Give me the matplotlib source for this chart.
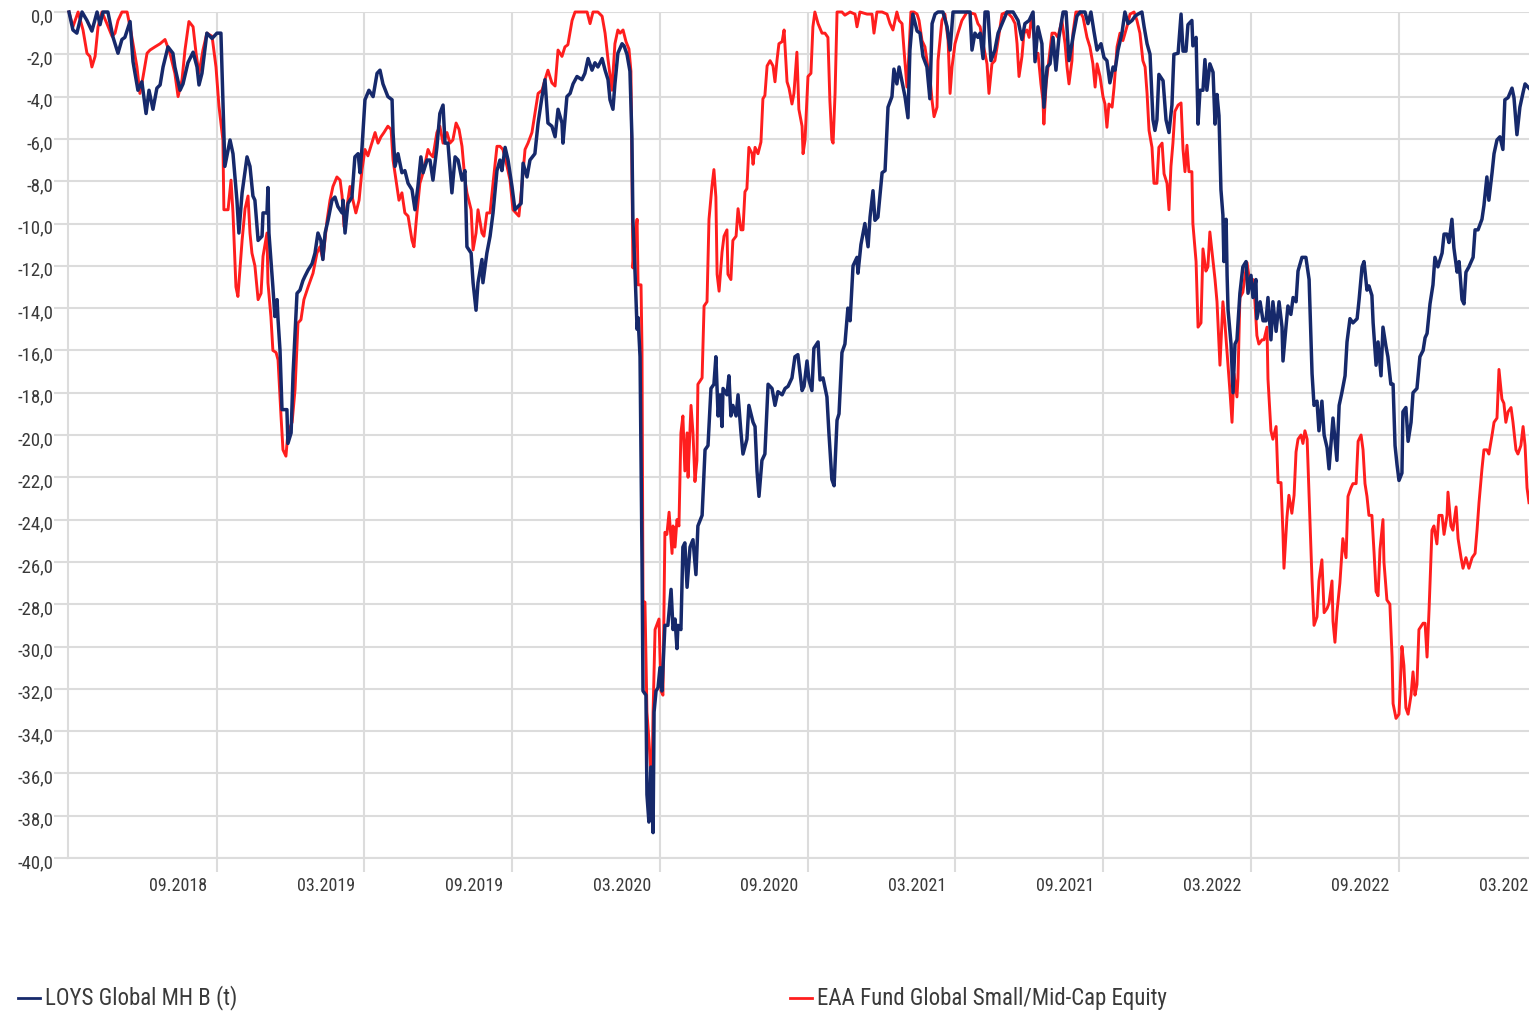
import matplotlib
matplotlib.use('Agg')
import matplotlib.pyplot as plt
from matplotlib import font_manager
from matplotlib.lines import Line2D
import numpy as np

# Drawdown (%). x = months since the start of the window (03.2018)
loys = [
    (0.00, 0.0), (0.16, -0.85), (0.32, -1.0), (0.53, 0.0), (0.73, -0.4), (0.93, -0.9), (1.14, 0.0),
    (1.26, -0.6), (1.38, 0.0), (1.58, 0.0), (1.79, -1.2), (1.99, -1.95), (2.15, -1.3), (2.27, -1.2),
    (2.48, -0.45), (2.60, -2.35), (2.80, -3.7), (2.96, -3.3), (3.13, -4.8), (3.25, -3.7), (3.41, -4.6),
    (3.57, -3.6), (3.70, -3.45), (3.82, -2.6), (4.02, -1.65), (4.22, -1.95), (4.30, -2.6), (4.51, -3.7),
    (4.63, -3.4), (4.83, -2.4), (5.04, -1.9), (5.20, -2.6), (5.28, -3.45), (5.40, -2.9), (5.60, -1.0),
    (5.81, -1.25), (6.01, -1.0), (6.17, -1.0), (6.25, -4.15), (6.33, -7.3), (6.54, -6.05), (6.66, -6.7),
    (6.82, -8.9), (6.90, -10.45), (7.03, -8.55), (7.23, -6.85), (7.35, -7.3), (7.47, -8.7), (7.55, -8.9),
    (7.68, -10.8), (7.84, -10.6), (7.88, -9.5), (8.04, -9.5), (8.08, -8.3), (8.12, -10.45), (8.24, -12.35),
    (8.28, -13.0), (8.36, -14.4), (8.45, -13.6), (8.49, -14.55), (8.57, -16.0), (8.65, -18.8), (8.85, -18.8),
    (8.89, -20.4), (9.02, -19.9), (9.10, -17.1), (9.26, -13.3), (9.38, -13.15), (9.50, -12.7), (9.58, -12.5),
    (9.71, -12.2), (9.87, -11.9), (9.99, -11.4), (10.11, -10.45), (10.23, -10.8), (10.31, -11.7),
    (10.40, -10.45), (10.52, -9.85), (10.68, -8.9), (10.80, -8.75), (10.92, -9.2), (11.09, -9.5),
    (11.13, -8.9), (11.21, -10.45), (11.33, -9.05), (11.49, -8.75), (11.61, -6.85), (11.74, -6.7),
    (11.82, -7.6), (11.90, -6.4), (12.02, -4.15), (12.18, -3.7), (12.35, -4.0), (12.51, -2.9), (12.63, -2.75),
    (12.75, -3.4), (12.95, -4.0), (13.12, -4.15), (13.16, -5.7), (13.24, -7.3), (13.36, -6.7), (13.52, -7.6),
    (13.64, -7.5), (13.77, -8.1), (13.93, -8.4), (14.05, -9.35), (14.17, -8.25), (14.29, -6.85), (14.38, -7.6),
    (14.54, -7.0), (14.66, -7.0), (14.78, -7.95), (14.94, -6.4), (15.06, -4.8), (15.19, -4.4), (15.27, -6.2),
    (15.39, -6.2), (15.55, -8.55), (15.68, -6.85), (15.80, -7.0), (15.96, -7.95), (16.08, -7.5), (16.16, -11.1),
    (16.33, -11.4), (16.41, -12.8), (16.53, -14.1), (16.61, -12.8), (16.77, -11.7), (16.81, -12.8),
    (16.97, -11.4), (17.10, -10.6), (17.22, -9.5), (17.38, -7.5), (17.50, -7.0), (17.58, -7.5), (17.71, -6.4),
    (17.83, -7.0), (17.99, -8.25), (18.11, -9.35), (18.23, -9.2), (18.36, -9.05), (18.44, -7.15), (18.60, -7.8),
    (18.72, -7.0), (18.92, -6.7), (19.05, -5.25), (19.21, -4.0), (19.33, -3.2), (19.45, -5.25), (19.61, -5.4),
    (19.74, -5.9), (19.86, -4.6), (20.02, -5.25), (20.06, -6.2), (20.22, -4.0), (20.35, -3.85), (20.47, -3.4),
    (20.63, -3.05), (20.83, -3.2), (20.95, -2.9), (21.08, -2.2), (21.24, -2.75), (21.36, -2.4), (21.48, -2.6),
    (21.65, -2.2), (21.77, -2.75), (21.89, -3.2), (21.97, -4.15), (22.09, -4.6), (22.17, -3.4), (22.29, -1.95),
    (22.46, -1.5), (22.54, -1.6), (22.66, -2.0), (22.78, -2.8), (22.86, -5.9), (22.90, -9.8), (22.99, -12.4),
    (23.07, -15.0), (23.11, -14.45), (23.19, -16.3), (23.27, -25.85), (23.31, -32.1), (23.43, -32.3),
    (23.47, -37.0), (23.55, -38.3), (23.63, -35.7), (23.72, -38.8), (23.76, -33.1), (23.84, -32.1),
    (23.92, -31.95), (24.00, -31.0), (24.08, -32.1), (24.20, -29.0), (24.32, -29.0), (24.45, -27.3),
    (24.53, -29.2), (24.61, -28.7), (24.69, -30.1), (24.73, -29.0), (24.85, -29.2), (24.93, -25.3),
    (25.01, -25.1), (25.10, -27.2), (25.22, -25.3), (25.34, -24.95), (25.46, -26.6), (25.54, -24.3),
    (25.71, -23.8), (25.83, -20.7), (25.95, -20.5), (26.07, -17.8), (26.19, -17.6), (26.27, -16.3),
    (26.36, -19.1), (26.44, -18.1), (26.52, -19.6), (26.56, -17.8), (26.72, -18.1), (26.80, -17.2),
    (26.88, -19.1), (26.96, -18.6), (27.09, -19.1), (27.17, -18.1), (27.29, -19.9), (27.37, -20.9),
    (27.53, -20.2), (27.61, -18.6), (27.78, -19.4), (27.86, -19.6), (27.94, -21.7), (28.02, -22.9),
    (28.14, -21.2), (28.26, -20.9), (28.39, -17.6), (28.55, -17.8), (28.67, -18.6), (28.79, -17.95),
    (28.96, -18.1), (29.08, -17.8), (29.20, -17.7), (29.36, -17.3), (29.48, -16.3), (29.60, -16.2),
    (29.77, -17.9), (29.85, -17.7), (29.97, -16.5), (30.05, -17.4), (30.17, -17.9), (30.25, -15.9),
    (30.42, -15.6), (30.50, -17.4), (30.62, -17.3), (30.78, -18.2), (30.86, -19.9), (30.98, -22.1),
    (31.07, -22.4), (31.19, -19.3), (31.27, -19.0), (31.39, -16.1), (31.51, -15.7), (31.63, -14.0),
    (31.72, -14.6), (31.84, -12.0), (32.00, -11.6), (32.04, -12.35), (32.16, -11.0), (32.32, -10.0),
    (32.45, -11.1), (32.53, -9.7), (32.65, -8.45), (32.73, -9.85), (32.85, -9.7), (33.02, -7.6), (33.14, -7.5),
    (33.26, -4.5), (33.42, -4.0), (33.50, -2.7), (33.62, -3.4), (33.71, -2.6), (33.83, -3.3), (33.95, -4.0),
    (34.07, -5.0), (34.15, -1.8), (34.27, -0.1), (34.44, -0.9), (34.56, -1.0), (34.68, -2.1), (34.84, -2.6),
    (34.96, -4.1), (35.05, -0.55), (35.17, -0.1), (35.29, 0.0), (35.49, 0.0), (35.66, -0.7), (35.78, -1.8),
    (35.90, 0.0), (36.10, 0.0), (36.39, 0.0), (36.59, 0.0), (36.67, -1.8), (36.79, -1.0), (36.91, -1.2),
    (37.00, -1.0), (37.12, -2.2), (37.20, 0.0), (37.32, 0.0), (37.44, -2.3), (37.60, -1.8), (37.73, -1.0),
    (37.89, -0.55), (38.09, 0.0), (38.34, 0.0), (38.54, -0.4), (38.70, -1.3), (38.82, -0.55), (38.99, -0.4),
    (39.15, 0.0), (39.23, -2.35), (39.35, -0.7), (39.51, -1.5), (39.59, -4.5), (39.72, -2.6), (39.84, -2.45),
    (39.96, -1.2), (40.08, -2.75), (40.20, -1.2), (40.37, 0.0), (40.49, 0.0), (40.61, -2.3), (40.77, -1.2),
    (40.93, -0.2), (41.06, 0.0), (41.26, 0.0), (41.38, -0.55), (41.50, 0.0), (41.62, -0.9), (41.75, -1.8),
    (41.91, -1.5), (42.03, -2.15), (42.15, -2.3), (42.27, -3.35), (42.40, -2.6), (42.48, -2.75), (42.60, -1.8),
    (42.76, -1.0), (42.88, 0.0), (43.01, -0.55), (43.17, -0.4), (43.29, -0.2), (43.41, -0.1), (43.57, 0.0),
    (43.66, -0.7), (43.78, -1.5), (43.90, -2.0), (44.02, -5.1), (44.10, -5.6), (44.18, -5.1), (44.26, -2.95),
    (44.43, -3.25), (44.55, -5.1), (44.67, -5.7), (44.79, -4.4), (44.87, -2.0), (45.04, -1.95), (45.16, -0.1),
    (45.24, -1.85), (45.36, -1.85), (45.44, -0.6), (45.60, -0.4), (45.64, -1.6), (45.77, -1.2), (45.85, -5.3),
    (45.93, -3.7), (46.05, -3.7), (46.13, -2.25), (46.21, -3.7), (46.33, -2.45), (46.46, -2.85), (46.54, -5.3),
    (46.62, -3.9), (46.70, -4.9), (46.78, -8.4), (46.86, -9.6), (46.90, -11.8), (46.99, -9.8), (47.03, -12.45),
    (47.07, -14.1), (47.19, -15.7), (47.27, -18.0), (47.35, -15.7), (47.43, -15.5), (47.55, -13.3),
    (47.67, -12.05), (47.80, -11.8), (47.88, -13.3), (48.00, -12.45), (48.08, -13.5), (48.20, -12.65),
    (48.24, -14.5), (48.37, -13.7), (48.49, -14.6), (48.61, -14.6), (48.69, -13.5), (48.81, -15.5),
    (48.89, -13.7), (49.02, -15.1), (49.14, -13.7), (49.26, -14.9), (49.30, -16.5), (49.42, -14.9),
    (49.50, -13.9), (49.62, -14.3), (49.71, -13.5), (49.83, -13.7), (49.91, -12.25), (50.07, -11.6),
    (50.23, -11.6), (50.36, -12.65), (50.48, -17.1), (50.56, -18.6), (50.68, -18.4), (50.76, -19.8),
    (50.88, -18.4), (50.97, -20.0), (51.09, -20.6), (51.17, -21.6), (51.29, -19.8), (51.33, -19.2),
    (51.49, -21.2), (51.58, -18.6), (51.69, -18.0), (51.82, -17.2), (51.90, -15.6), (52.02, -14.5),
    (52.14, -14.7), (52.31, -14.5), (52.39, -13.6), (52.51, -12.05), (52.59, -11.8), (52.71, -13.15),
    (52.79, -12.95), (52.91, -13.4), (52.96, -14.7), (53.08, -16.7), (53.16, -15.6), (53.28, -17.2),
    (53.36, -14.9), (53.48, -15.8), (53.56, -16.3), (53.68, -17.6), (53.77, -17.6), (53.85, -20.5),
    (53.93, -21.4), (54.01, -22.15), (54.13, -21.8), (54.17, -18.9), (54.29, -18.7), (54.38, -20.3),
    (54.50, -19.4), (54.58, -18.0), (54.74, -17.8), (54.86, -16.3), (54.99, -16.0), (55.07, -15.4),
    (55.15, -15.2), (55.27, -13.8), (55.39, -12.9), (55.47, -11.6), (55.59, -12.05), (55.76, -11.4),
    (55.84, -10.5), (55.96, -10.5), (56.04, -10.9), (56.16, -9.8), (56.24, -11.15), (56.37, -12.3),
    (56.45, -11.8), (56.57, -13.6), (56.65, -13.8), (56.73, -12.3), (56.85, -12.05), (57.02, -11.6),
    (57.10, -10.3), (57.22, -10.3), (57.38, -9.8), (57.46, -9.15), (57.58, -7.8), (57.66, -8.9), (57.79, -7.6),
    (57.87, -6.7), (57.99, -6.05), (58.11, -5.9), (58.23, -6.5), (58.31, -4.15), (58.44, -4.05), (58.60, -3.6),
    (58.68, -4.05), (58.80, -5.8), (58.92, -4.5), (59.05, -3.8), (59.13, -3.4), (59.29, -3.6),
]

eaa = [
    (0.00, 0.0), (0.16, -0.7), (0.37, 0.0), (0.57, -0.85), (0.73, -1.95), (0.85, -2.1), (0.93, -2.6),
    (1.06, -2.1), (1.18, -0.7), (1.34, 0.0), (1.54, -0.55), (1.75, -1.15), (1.87, -1.0), (1.99, -0.4),
    (2.15, 0.0), (2.36, 0.0), (2.48, -0.7), (2.60, -1.5), (2.76, -2.6), (2.88, -3.85), (3.01, -3.05),
    (3.17, -1.95), (3.29, -1.8), (3.49, -1.65), (3.70, -1.5), (3.90, -1.3), (4.10, -1.95), (4.30, -2.9),
    (4.43, -4.0), (4.59, -3.2), (4.71, -1.8), (4.87, -0.45), (5.04, -0.7), (5.16, -1.95), (5.28, -2.9),
    (5.44, -1.8), (5.60, -1.0), (5.81, -1.15), (5.97, -2.6), (6.09, -4.45), (6.25, -6.05), (6.29, -9.35),
    (6.46, -9.35), (6.58, -7.95), (6.66, -9.5), (6.78, -13.0), (6.86, -13.45), (7.03, -10.8), (7.15, -9.3),
    (7.27, -8.7), (7.35, -10.45), (7.43, -11.4), (7.55, -12.0), (7.68, -13.6), (7.80, -13.3), (7.88, -11.55),
    (8.04, -10.45), (8.08, -12.8), (8.20, -14.4), (8.28, -16.0), (8.41, -16.1), (8.49, -16.45), (8.61, -19.1),
    (8.69, -20.7), (8.81, -21.0), (8.89, -19.9), (9.06, -19.4), (9.18, -17.85), (9.30, -14.7), (9.42, -14.55),
    (9.54, -13.6), (9.71, -13.0), (9.91, -12.35), (10.07, -11.4), (10.19, -11.1), (10.31, -11.7),
    (10.48, -9.85), (10.60, -8.9), (10.72, -8.25), (10.88, -7.8), (11.01, -7.95), (11.09, -8.7),
    (11.17, -10.15), (11.29, -9.2), (11.41, -8.25), (11.53, -8.9), (11.65, -9.5), (11.78, -8.9),
    (11.90, -7.45), (12.02, -6.5), (12.14, -6.8), (12.30, -6.2), (12.43, -5.7), (12.55, -6.2), (12.67, -5.9),
    (12.79, -5.7), (12.95, -5.4), (13.08, -5.55), (13.16, -7.0), (13.32, -8.25), (13.40, -8.9), (13.52, -8.55),
    (13.64, -9.5), (13.77, -9.65), (13.93, -10.8), (14.01, -11.1), (14.13, -9.5), (14.25, -8.1), (14.38, -7.6),
    (14.58, -6.5), (14.66, -6.7), (14.78, -6.85), (14.94, -5.7), (15.06, -5.4), (15.19, -6.2), (15.35, -5.7),
    (15.47, -6.2), (15.59, -6.05), (15.72, -5.25), (15.84, -5.55), (15.96, -6.35), (16.08, -7.95),
    (16.16, -8.55), (16.33, -9.35), (16.41, -11.25), (16.53, -10.45), (16.61, -9.35), (16.77, -10.45),
    (16.85, -10.6), (16.97, -9.5), (17.10, -9.5), (17.22, -8.1), (17.38, -6.35), (17.50, -6.35), (17.62, -6.5),
    (17.79, -7.3), (17.91, -7.95), (18.03, -9.35), (18.15, -9.5), (18.27, -9.65), (18.40, -8.1), (18.52, -6.5),
    (18.64, -6.2), (18.80, -5.7), (18.92, -4.8), (19.05, -3.85), (19.21, -3.7), (19.33, -3.2), (19.45, -2.75),
    (19.61, -3.35), (19.74, -3.5), (19.86, -1.8), (20.02, -2.1), (20.14, -1.65), (20.26, -1.55), (20.43, -0.4),
    (20.55, 0.0), (20.83, 0.0), (21.04, 0.0), (21.16, -0.55), (21.28, 0.0), (21.48, 0.0), (21.65, -0.2),
    (21.77, -1.0), (21.89, -2.25), (22.05, -3.7), (22.17, -1.5), (22.29, -0.85), (22.38, -1.0), (22.50, -0.85),
    (22.62, -1.4), (22.74, -1.75), (22.82, -2.8), (22.86, -7.2), (22.90, -12.1), (22.99, -10.8), (23.07, -9.8),
    (23.11, -12.9), (23.23, -12.9), (23.27, -16.0), (23.31, -27.9), (23.39, -27.9), (23.47, -33.1),
    (23.55, -34.4), (23.67, -36.7), (23.72, -33.1), (23.80, -29.2), (23.88, -28.95), (23.96, -28.7),
    (24.04, -32.1), (24.12, -32.3), (24.20, -24.6), (24.28, -24.7), (24.37, -23.65), (24.49, -25.6),
    (24.53, -24.3), (24.61, -25.3), (24.69, -24.0), (24.77, -24.3), (24.85, -19.9), (24.93, -19.1),
    (25.01, -21.7), (25.10, -19.9), (25.14, -22.0), (25.26, -18.6), (25.34, -19.9), (25.42, -22.2),
    (25.50, -21.2), (25.54, -17.6), (25.71, -17.3), (25.79, -13.9), (25.91, -13.7), (25.99, -9.8),
    (26.11, -8.25), (26.19, -7.45), (26.27, -8.75), (26.32, -12.4), (26.40, -13.2), (26.52, -11.35),
    (26.60, -10.6), (26.72, -10.3), (26.76, -12.4), (26.88, -12.65), (26.96, -10.8), (27.09, -10.6),
    (27.17, -9.3), (27.29, -10.3), (27.37, -10.3), (27.45, -8.5), (27.53, -8.35), (27.61, -6.4), (27.74, -6.7),
    (27.78, -7.2), (27.86, -6.4), (27.98, -6.7), (28.10, -6.15), (28.18, -4.1), (28.26, -3.95), (28.35, -2.55),
    (28.47, -2.3), (28.59, -2.55), (28.67, -3.3), (28.75, -2.3), (28.83, -1.5), (28.96, -1.4), (29.04, -0.85),
    (29.16, -3.3), (29.24, -3.6), (29.36, -4.35), (29.44, -3.85), (29.56, -1.9), (29.64, -4.6), (29.77, -5.4),
    (29.81, -6.7), (29.89, -6.05), (29.97, -4.0), (30.01, -3.05), (30.13, -2.9), (30.21, -0.7), (30.29, 0.0),
    (30.42, -0.55), (30.58, -1.0), (30.70, -1.0), (30.82, -1.2), (30.90, -4.2), (30.98, -6.05), (31.03, -6.2),
    (31.11, -3.85), (31.19, 0.0), (31.39, 0.0), (31.51, -0.15), (31.72, 0.0), (31.92, -0.1), (32.00, -0.7),
    (32.12, 0.0), (32.41, -0.1), (32.61, -0.1), (32.69, -1.0), (32.81, 0.0), (33.02, 0.0), (33.22, -0.1),
    (33.34, -0.55), (33.46, -0.85), (33.62, 0.0), (33.71, -0.4), (33.83, -0.55), (33.91, -1.8), (34.03, -3.55),
    (34.11, -1.95), (34.19, 0.0), (34.31, 0.0), (34.44, -0.1), (34.52, -0.4), (34.64, -1.35), (34.76, -1.65),
    (34.88, -2.6), (34.96, -3.05), (35.05, -4.2), (35.13, -4.95), (35.25, -4.5), (35.29, -2.3), (35.45, -0.4),
    (35.57, -0.1), (35.70, -1.35), (35.78, -3.85), (35.86, -2.6), (35.98, -1.5), (36.10, -1.0), (36.26, -0.4),
    (36.47, 0.0), (36.79, -0.1), (36.91, -0.55), (37.00, -0.7), (37.12, -1.5), (37.28, -2.45), (37.36, -3.85),
    (37.48, -2.45), (37.60, -2.3), (37.73, -1.35), (37.89, -0.1), (38.09, 0.0), (38.29, -0.25), (38.42, -0.55),
    (38.50, -1.5), (38.58, -3.05), (38.70, -2.1), (38.78, -1.0), (38.90, -0.85), (38.99, -1.2), (39.07, -0.4),
    (39.15, -0.7), (39.27, -2.1), (39.35, -1.95), (39.47, -3.4), (39.55, -4.15), (39.59, -5.3), (39.68, -3.4),
    (39.76, -2.6), (39.92, -1.0), (40.04, -1.0), (40.16, -1.2), (40.32, -0.4), (40.45, -1.5), (40.53, -2.6),
    (40.61, -3.4), (40.73, -2.3), (40.77, -1.0), (40.89, 0.0), (41.06, 0.0), (41.18, -0.25), (41.34, -1.2),
    (41.46, -1.65), (41.58, -2.45), (41.67, -3.55), (41.75, -2.45), (41.87, -3.05), (41.99, -4.0),
    (42.07, -4.35), (42.15, -5.45), (42.23, -4.35), (42.36, -4.5), (42.44, -3.55), (42.56, -1.65),
    (42.68, -1.0), (42.80, -1.35), (42.96, -0.7), (43.09, -0.1), (43.25, 0.0), (43.37, -0.4), (43.49, -1.0),
    (43.61, -2.3), (43.70, -2.6), (43.78, -3.85), (43.86, -5.6), (43.98, -6.4), (44.06, -8.1), (44.18, -8.1),
    (44.26, -6.4), (44.39, -6.2), (44.47, -7.65), (44.59, -8.1), (44.67, -9.35), (44.75, -7.3), (44.83, -6.2),
    (44.91, -4.7), (45.04, -4.4), (45.16, -4.3), (45.24, -6.5), (45.32, -7.55), (45.40, -6.3), (45.48, -7.55),
    (45.60, -7.55), (45.64, -10.0), (45.77, -11.8), (45.85, -14.9), (45.97, -14.7), (46.05, -11.2),
    (46.17, -12.25), (46.25, -12.05), (46.33, -10.4), (46.46, -11.8), (46.54, -12.65), (46.62, -13.7),
    (46.74, -16.7), (46.86, -13.7), (46.94, -14.7), (47.03, -16.1), (47.15, -18.0), (47.23, -19.4),
    (47.31, -17.1), (47.43, -18.2), (47.47, -17.35), (47.55, -13.5), (47.67, -13.25), (47.76, -12.45),
    (47.84, -11.85), (47.96, -12.85), (48.08, -12.65), (48.16, -13.7), (48.24, -15.3), (48.32, -15.7),
    (48.45, -15.5), (48.53, -15.5), (48.65, -14.9), (48.69, -17.35), (48.81, -19.8), (48.89, -20.2),
    (49.02, -19.6), (49.10, -22.25), (49.22, -22.25), (49.30, -24.7), (49.34, -26.3), (49.46, -23.9),
    (49.54, -22.85), (49.66, -23.7), (49.75, -22.85), (49.83, -20.8), (49.91, -20.2), (50.03, -20.0),
    (50.11, -20.4), (50.19, -19.8), (50.28, -20.2), (50.36, -22.85), (50.48, -26.9), (50.56, -29.0),
    (50.68, -28.6), (50.76, -26.9), (50.88, -25.9), (50.97, -28.4), (51.09, -28.2), (51.17, -27.95),
    (51.29, -26.9), (51.33, -28.8), (51.41, -29.8), (51.49, -28.4), (51.61, -27.0), (51.73, -24.9),
    (51.86, -25.8), (51.94, -22.9), (52.06, -22.5), (52.14, -22.3), (52.27, -22.3), (52.35, -20.3),
    (52.47, -20.0), (52.55, -20.7), (52.63, -22.3), (52.71, -22.9), (52.79, -23.8), (52.91, -23.8),
    (53.00, -25.6), (53.08, -27.4), (53.16, -27.6), (53.24, -25.4), (53.36, -24.0), (53.40, -26.0),
    (53.52, -27.8), (53.64, -28.0), (53.73, -30.5), (53.77, -32.7), (53.89, -33.4), (54.01, -33.2),
    (54.13, -30.0), (54.21, -30.9), (54.29, -32.9), (54.38, -33.2), (54.50, -32.3), (54.58, -31.2),
    (54.66, -32.3), (54.74, -31.8), (54.82, -29.2), (54.99, -28.9), (55.07, -28.9), (55.15, -30.5),
    (55.23, -28.3), (55.35, -24.5), (55.43, -24.3), (55.55, -25.15), (55.63, -23.8), (55.76, -23.8),
    (55.84, -24.7), (55.96, -23.8), (56.00, -22.7), (56.12, -24.3), (56.20, -24.5), (56.33, -23.4),
    (56.41, -24.9), (56.53, -25.8), (56.61, -26.3), (56.73, -25.8), (56.85, -26.3), (56.98, -25.8),
    (57.10, -25.6), (57.18, -24.5), (57.26, -23.2), (57.38, -21.6), (57.46, -20.7), (57.58, -20.7),
    (57.66, -20.9), (57.79, -20.0), (57.87, -19.4), (57.99, -19.2), (58.07, -16.9), (58.19, -18.3),
    (58.27, -18.5), (58.35, -19.4), (58.44, -18.9), (58.56, -18.7), (58.64, -19.4), (58.76, -20.7),
    (58.84, -20.9), (58.96, -20.5), (59.05, -19.6), (59.13, -20.5), (59.21, -22.5), (59.29, -23.2),
]

tick_months = [6, 12, 18, 24, 30, 36, 42, 48, 54, 60]
tick_labels = ['09.2018', '03.2019', '09.2019', '03.2020', '09.2020',
               '03.2021', '09.2021', '03.2022', '09.2022', '03.2023']
y_ticks = list(range(0, -42, -2))

names = ['LOYS Global MH B (t)', 'EAA Fund Global Small/Mid-Cap Equity']
C_LOYS = '#16296b'
C_EAA = '#ff1e1e'
C_GRID = '#dcdcdc'
C_TEXT = '#3a3a3a'

available = {f.name for f in font_manager.fontManager.ttflist}
FONT = 'DejaVu Sans'
for cand in ['Roboto Condensed', 'Liberation Sans Narrow', 'DejaVu Sans Condensed', 'Roboto']:
    if cand in available:
        FONT = cand
        break
plt.rcParams['font.family'] = [FONT, 'DejaVu Sans']

W, H = 1529, 1014
fig = plt.figure(figsize=(W / 100, H / 100), dpi=100)
fig.patch.set_facecolor('white')
ax = fig.add_axes([68 / W, 1 - 858 / H, (W - 68) / W, (858 - 12) / H])

lt, lv = np.array(loys).T
et, ev = np.array(eaa).T
ax.plot(et, ev, color=C_EAA, lw=2.1, solid_joinstyle='round', zorder=3, clip_on=False)
ax.plot(lt, lv, color=C_LOYS, lw=2.5, solid_joinstyle='round', zorder=4, clip_on=False)

ax.set_xlim(-0.04, 59.29)
ax.set_ylim(-40, 0)

ax.set_yticks(y_ticks)
ax.set_yticklabels([])
ax.set_xticks([m for m in tick_months if m < 59.29])
ax.set_xticklabels([])
ax.tick_params(axis='both', length=10, width=1.5, color=C_GRID)
ax.grid(True, color=C_GRID, lw=1.5, zorder=0)
ax.set_axisbelow(True)

for s in ['top', 'right']:
    ax.spines[s].set_visible(False)
for s in ['left', 'bottom']:
    ax.spines[s].set_color(C_GRID)
    ax.spines[s].set_linewidth(1.5)

# value labels: left of the ticks, a little below their grid lines
for v in y_ticks:
    ax.annotate(f'{v:.1f}'.replace('.', ','), xy=(0, v), xycoords=('axes fraction', 'data'),
                xytext=(-10.5, -3.6), textcoords='offset points', ha='right', va='center',
                fontsize=13.5, color=C_TEXT, annotation_clip=False)

# month labels sit just left of their grid line
for m, lab in zip(tick_months, tick_labels):
    ax.annotate(lab, xy=(m - 0.37, 0), xycoords=('data', 'axes fraction'),
                xytext=(0, -20.3), textcoords='offset points', ha='right', va='center',
                fontsize=13, color=C_TEXT, annotation_clip=False)

# legend along the bottom
ly = 1 - 998 / H
for (x0, x1, tx), c, n in zip([(18, 40, 45), (790, 812, 817)], [C_LOYS, C_EAA], names):
    fig.add_artist(Line2D([x0 / W, x1 / W], [ly, ly], transform=fig.transFigure, color=c, lw=2))
    fig.text(tx / W, ly, n, ha='left', va='center', fontsize=16.5, color=C_TEXT)

fig.savefig('out.png', dpi=100, facecolor='white')
